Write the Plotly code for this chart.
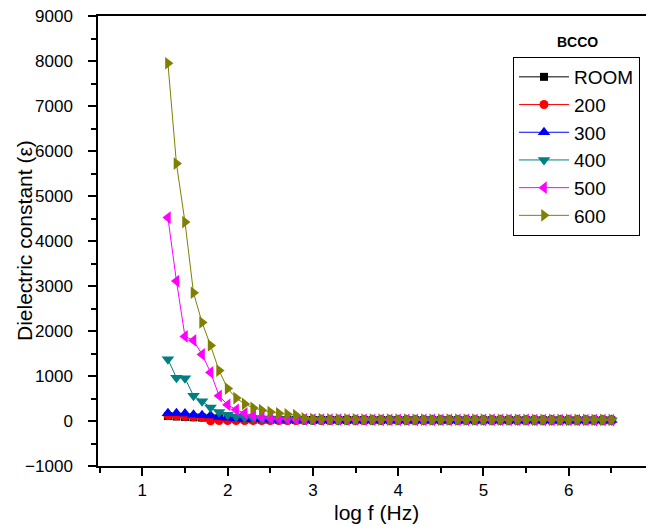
import plotly.graph_objects as go

log_f = [1.3, 1.4, 1.5, 1.6, 1.7, 1.8, 1.9, 2.0, 2.1, 2.2, 2.3, 2.4, 2.5, 2.6, 2.7, 2.8, 2.9,
         3.0, 3.1, 3.2, 3.3, 3.4, 3.5, 3.6, 3.7, 3.8, 3.9, 4.0, 4.1, 4.2, 4.3, 4.4, 4.5,
         4.6, 4.7, 4.8, 4.9, 5.0, 5.1, 5.2, 5.3, 5.4, 5.5, 5.6, 5.7, 5.8, 5.9, 6.0, 6.1,
         6.2, 6.3, 6.4, 6.5]

room = [110, 100, 92, 82, 76, 70, 60, 52, 46, 40, 35, 31, 28, 26, 25, 24, 23, 22, 22, 21, 21,
        21, 20, 20, 20, 20, 20, 20, 19, 19, 19, 19, 19, 19, 18, 18, 18, 18, 18, 18, 18, 17,
        17, 17, 17, 17, 17, 16, 16, 16, 16, 16, 16]
t200 = [120, 115, 105, 95, 80, 5, 10, 12, 12, 11, 10, 10, 10, 9, 9, 9, 9, 9, 9, 8, 8, 8, 8, 8,
        8, 8, 8, 8, 8, 8, 7, 7, 7, 7, 7, 7, 7, 7, 7, 7, 7, 7, 7, 6, 6, 6, 6, 6, 6, 6, 6, 6, 6]
t300 = [170, 175, 165, 140, 130, 120, 90, 70, 56, 46, 39, 34, 31, 29, 28, 27, 26, 26, 25, 25,
        25, 24, 24, 24, 24, 24, 23, 23, 23, 23, 23, 23, 22, 22, 22, 22, 22, 22, 22, 21, 21,
        21, 21, 21, 21, 21, 20, 20, 20, 20, 20, 20, 20]
t400 = [1370, 960, 950, 560, 440, 300, 200, 140, 100, 76, 60, 50, 43, 38, 34, 31, 29, 28, 27,
        26, 25, 24, 24, 23, 23, 22, 22, 22, 21, 21, 21, 21, 20, 20, 20, 20, 20, 19, 19, 19,
        19, 19, 19, 18, 18, 18, 18, 18, 18, 18, 17, 17, 17]
t500 = [4520, 3110, 1880, 1790, 1480, 1080, 560, 360, 250, 170, 120, 90, 70, 55, 46, 40, 36,
        33, 31, 30, 29, 28, 28, 27, 27, 26, 26, 26, 25, 25, 25, 25, 24, 24, 24, 24, 24, 23,
        23, 23, 23, 23, 23, 22, 22, 22, 22, 22, 22, 22, 21, 21, 21]
t600 = [7950, 5720, 4420, 2850, 2190, 1680, 1120, 720, 510, 380, 290, 240, 200, 170, 150,
        130, 60, 45, 40, 38, 36, 35, 34, 33, 33, 32, 32, 31, 31, 31, 30, 30, 30, 30, 29, 29,
        29, 29, 29, 28, 28, 28, 28, 28, 28, 27, 27, 27, 27, 27, 27, 26, 26]

x_ticks = [1, 2, 3, 4, 5, 6, 7]
x_minor = [0.5, 1.5, 2.5, 3.5, 4.5, 5.5, 6.5]
y_ticks = [-1000, 0, 1000, 2000, 3000, 4000, 5000, 6000, 7000, 8000, 9000]
y_minor = [-500, 500, 1500, 2500, 3500, 4500, 5500, 6500, 7500, 8500]

series = [
    ("ROOM", room, "#000000", "square", 8),
    ("200", t200, "#FF0000", "circle", 9),
    ("300", t300, "#0000FF", "triangle-up", 11),
    ("400", t400, "#008080", "triangle-down", 11),
    ("500", t500, "#FF00FF", "triangle-left", 11),
    ("600", t600, "#808000", "triangle-right", 11),
]

fig = go.Figure()
for name, vals, color, sym, size in series:
    fig.add_trace(go.Scatter(
        x=log_f, y=vals, name=name, mode="lines+markers",
        line=dict(color=color, width=1),
        marker=dict(symbol=sym, size=size, color=color, line=dict(width=0)),
    ))

# page body has an 8px margin, so the figure is 8px smaller and offset by it
font = "Liberation Sans, Arial, sans-serif"
fig.update_layout(
    width=646, height=518,
    margin=dict(l=90, r=0, t=8, b=60),
    paper_bgcolor="white", plot_bgcolor="white",
    font=dict(family=font, color="#000000"),
    showlegend=True,
    legend=dict(
        x=(513 - 98) / 556, y=(466 - 57) / 450, xanchor="left", yanchor="top",
        bordercolor="#000000", borderwidth=1, bgcolor="white",
        font=dict(size=19, family=font),
        tracegroupgap=0, itemwidth=50,
    ),
    annotations=[
        dict(text="<b>BCCO</b>", x=(577 - 98) / 556, y=(466 - 42) / 450,
             xref="paper", yref="paper", xanchor="center", yanchor="middle",
             showarrow=False, font=dict(size=14, family=font)),
        dict(text="log f (Hz)", x=0.5, y=(466 - 512) / 450,
             xref="paper", yref="paper", xanchor="center", yanchor="middle",
             showarrow=False, font=dict(size=21, family=font)),
        dict(text="Dielectric constant (ε)", x=(24 - 98) / 556, y=0.5, textangle=-90,
             xref="paper", yref="paper", xanchor="center", yanchor="middle",
             showarrow=False, font=dict(size=21, family=font)),
    ],
)
fig.update_xaxes(
    range=[0.48, 7.0], tickmode="array", tickvals=x_ticks,
    ticks="outside", ticklen=8, tickwidth=1.5, tickcolor="#000",
    minor=dict(tickvals=x_minor, ticks="outside", ticklen=5,
               tickcolor="#000", tickwidth=1.5),
    showline=True, linecolor="#000", linewidth=1.5, mirror=True,
    showgrid=False, zeroline=False, automargin=False,
    tickfont=dict(size=17), ticklabeloverflow="allow",
)
fig.update_yaxes(
    range=[-1000, 9000], tickmode="array", tickvals=y_ticks,
    ticks="outside", ticklen=8, tickwidth=1.5, tickcolor="#000",
    minor=dict(tickvals=y_minor, ticks="outside", ticklen=5,
               tickcolor="#000", tickwidth=1.5),
    showline=True, linecolor="#000", linewidth=1.5, mirror=False,
    showgrid=False, zeroline=False, automargin=False,
    tickfont=dict(size=17), ticklabelstandoff=12, ticklabeloverflow="allow",
)

fig.write_html("out.html")
